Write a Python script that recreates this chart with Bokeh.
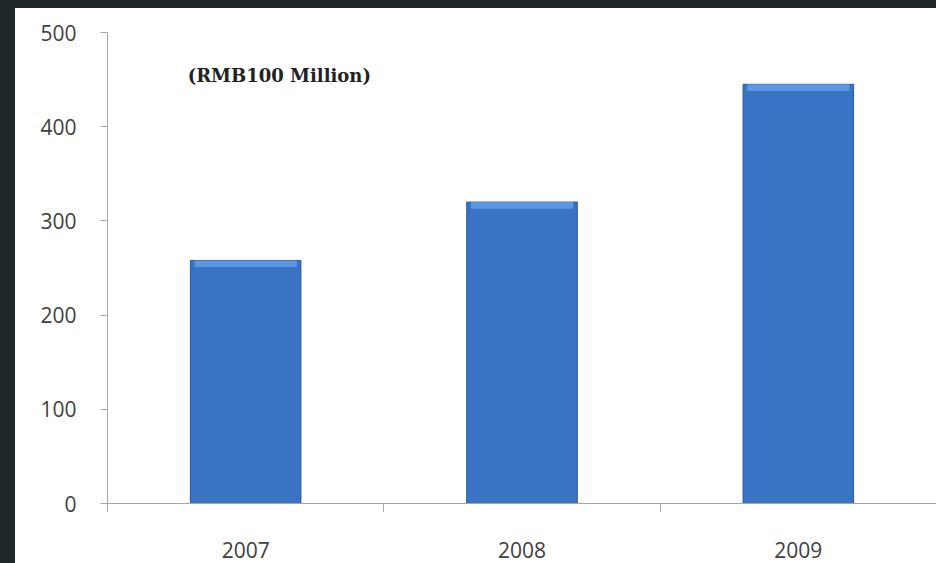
from bokeh.plotting import figure
from bokeh.models import FixedTicker, Range1d, Label, ColumnDataSource
from bokeh.layouts import column
from bokeh.embed import file_html
from bokeh.resources import INLINE

years = ["2007", "2008", "2009"]
values = [258, 320, 445]
y_ticks = [0, 100, 200, 300, 400, 500]
unit_note = "(RMB100 Million)"

xs = [i + 0.5 for i in range(len(years))]
bevel = 7
src = ColumnDataSource(dict(x=xs, top=values,
                            hl_bottom=[v - bevel for v in values]))

p = figure(width=921, height=555, output_backend="svg", toolbar_location=None,
           x_range=Range1d(0, len(years)), y_range=Range1d(0, 500),
           min_border_left=92, min_border_right=0, min_border_top=24,
           min_border_bottom=60)
p.margin = (8, 0, 0, 15)
p.background_fill_color = None
p.border_fill_color = None
p.outline_line_color = None
p.grid.visible = False
p.styles = {"background-color": "white"}

p.vbar(x="x", top="top", bottom=0, width=0.4, source=src,
       fill_color="#3a72c4", line_color="#2a579a", line_width=1)
p.vbar(x="x", top="top", bottom="hl_bottom", width=0.37, source=src,
       fill_color="#5d97e2", line_color=None)

axis_color = "#a6a6a6"
label_color = "#404040"

xa = p.xaxis[0]
xa.ticker = FixedTicker(ticks=xs, minor_ticks=list(range(len(years) + 1)))
xa.major_label_overrides = {x: y for x, y in zip(xs, years)}
xa.major_tick_out = 0
xa.major_tick_in = 0
xa.minor_tick_out = 8
xa.minor_tick_in = 0
xa.minor_tick_line_color = axis_color
xa.axis_line_color = axis_color
xa.major_label_standoff = 30
xa.major_label_text_font = "Open Sans"
xa.major_label_text_font_size = "21px"
xa.major_label_text_color = label_color

ya = p.yaxis[0]
ya.ticker = FixedTicker(ticks=y_ticks)
ya.major_tick_out = 7
ya.major_tick_in = 0
ya.minor_tick_out = 0
ya.major_tick_line_color = axis_color
ya.axis_line_color = axis_color
ya.major_label_standoff = 24
ya.major_label_text_font = "Open Sans"
ya.major_label_text_font_size = "21px"
ya.major_label_text_color = label_color

p.add_layout(Label(x=0.29, y=454, text=unit_note, text_font="DejaVu Serif",
                   text_font_style="bold", text_font_size="18px",
                   text_color="#222222", text_baseline="middle"))

layout = column(p, width=936, height=563,
                styles={"background-color": "#1f272b", "overflow": "hidden"})

open("out.html", "w").write(file_html(layout, INLINE))
